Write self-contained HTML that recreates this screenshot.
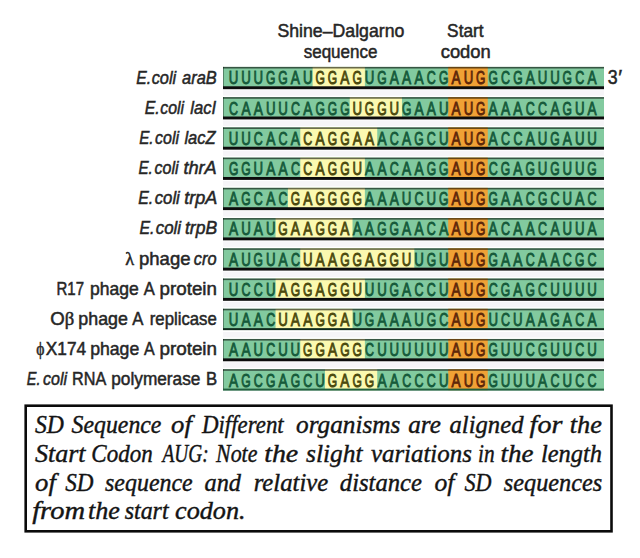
<!DOCTYPE html>
<html><head><meta charset="utf-8"><title>SD sequences</title>
<style>html,body{margin:0;padding:0;background:#fff}svg{display:block}svg{font-family:"Liberation Sans",sans-serif}</style></head><body>
<svg width="640" height="558" viewBox="0 0 640 558">
<rect width="640" height="558" fill="#fff"/>
<text x="0" y="0" font-family="Liberation Sans" font-size="18" fill="#262626" stroke="#262626" stroke-width="0.5" transform="translate(277.41 37.10) scale(0.9836 1)">Shine–Dalgarno</text>
<text x="0" y="0" font-family="Liberation Sans" font-size="18" fill="#262626" stroke="#262626" stroke-width="0.5" transform="translate(303.66 57.70) scale(0.9463 1)">sequence</text>
<text x="0" y="0" font-family="Liberation Sans" font-size="18" fill="#262626" stroke="#262626" stroke-width="0.5" transform="translate(447.12 37.10) scale(0.9589 1)">Start</text>
<text x="0" y="0" font-family="Liberation Sans" font-size="18" fill="#262626" stroke="#262626" stroke-width="0.5" transform="translate(440.69 57.70) scale(1.0220 1)">codon</text>
<text x="0" y="0" font-family="Liberation Sans" font-size="21" fill="#262626" stroke="#262626" stroke-width="0.5" transform="translate(607.68 83.60) scale(0.8476 1)">3</text>
<text x="0" y="0" font-family="Liberation Sans" font-size="21" fill="#262626" stroke="#262626" stroke-width="0.5" transform="translate(618.31 83.60) scale(0.9846 1)">′</text>
<g>
<text x="0" y="0" font-family="Liberation Sans" font-size="18" fill="#262626" stroke="#262626" stroke-width="0.5" transform="translate(136.18 83.90) scale(0.8746 1)"><tspan font-style="italic">E.</tspan></text>
<text x="0" y="0" font-family="Liberation Sans" font-size="18" fill="#262626" stroke="#262626" stroke-width="0.5" transform="translate(151.67 83.90) scale(0.9091 1)"><tspan font-style="italic">coli</tspan></text>
<text x="0" y="0" font-family="Liberation Sans" font-size="18" fill="#262626" stroke="#262626" stroke-width="0.5" transform="translate(182.07 83.90) scale(0.9147 1)"><tspan font-style="italic">araB</tspan></text>
<rect x="223.0" y="90.20" width="381.0" height="5.5" fill="#f6f5f8"/>
<rect x="223.0" y="66.90" width="381.0" height="21.00" fill="#82ca9f"/>
<rect x="312.64" y="66.90" width="52.24" height="21.00" fill="#fbf9b0"/>
<rect x="448.20" y="66.90" width="39.58" height="21.00" fill="#f0a135"/>
<rect x="223.0" y="66.90" width="381.0" height="1.6" fill="#000" fill-opacity="0.58"/>
<rect x="223.0" y="66.90" width="1" height="20" fill="#000" fill-opacity="0.35"/>
<rect x="223.0" y="86.30" width="381.0" height="2.9" fill="#0c0c0c"/>
<g font-size="19.2" text-anchor="middle" stroke-width="0.8">
<text transform="translate(233.60 84.30) scale(0.69 1)" fill="#155a3a" stroke="#155a3a" vector-effect="non-scaling-stroke">U</text>
<text transform="translate(245.96 84.30) scale(0.69 1)" fill="#155a3a" stroke="#155a3a" vector-effect="non-scaling-stroke">U</text>
<text transform="translate(258.32 84.30) scale(0.69 1)" fill="#155a3a" stroke="#155a3a" vector-effect="non-scaling-stroke">U</text>
<text transform="translate(270.68 84.30) scale(0.63 1)" fill="#155a3a" stroke="#155a3a" vector-effect="non-scaling-stroke">G</text>
<text transform="translate(283.04 84.30) scale(0.63 1)" fill="#155a3a" stroke="#155a3a" vector-effect="non-scaling-stroke">G</text>
<text transform="translate(295.40 84.30) scale(0.71 1)" fill="#155a3a" stroke="#155a3a" vector-effect="non-scaling-stroke">A</text>
<text transform="translate(307.76 84.30) scale(0.69 1)" fill="#155a3a" stroke="#155a3a" vector-effect="non-scaling-stroke">U</text>
<text transform="translate(320.12 84.30) scale(0.63 1)" fill="#4b490d" stroke="#4b490d" vector-effect="non-scaling-stroke">G</text>
<text transform="translate(332.48 84.30) scale(0.63 1)" fill="#4b490d" stroke="#4b490d" vector-effect="non-scaling-stroke">G</text>
<text transform="translate(344.84 84.30) scale(0.71 1)" fill="#4b490d" stroke="#4b490d" vector-effect="non-scaling-stroke">A</text>
<text transform="translate(357.20 84.30) scale(0.63 1)" fill="#4b490d" stroke="#4b490d" vector-effect="non-scaling-stroke">G</text>
<text transform="translate(369.56 84.30) scale(0.69 1)" fill="#155a3a" stroke="#155a3a" vector-effect="non-scaling-stroke">U</text>
<text transform="translate(381.92 84.30) scale(0.63 1)" fill="#155a3a" stroke="#155a3a" vector-effect="non-scaling-stroke">G</text>
<text transform="translate(394.28 84.30) scale(0.71 1)" fill="#155a3a" stroke="#155a3a" vector-effect="non-scaling-stroke">A</text>
<text transform="translate(406.64 84.30) scale(0.71 1)" fill="#155a3a" stroke="#155a3a" vector-effect="non-scaling-stroke">A</text>
<text transform="translate(419.00 84.30) scale(0.71 1)" fill="#155a3a" stroke="#155a3a" vector-effect="non-scaling-stroke">A</text>
<text transform="translate(431.36 84.30) scale(0.65 1)" fill="#155a3a" stroke="#155a3a" vector-effect="non-scaling-stroke">C</text>
<text transform="translate(443.72 84.30) scale(0.63 1)" fill="#155a3a" stroke="#155a3a" vector-effect="non-scaling-stroke">G</text>
<text transform="translate(456.08 84.30) scale(0.71 1)" fill="#5e2709" stroke="#5e2709" vector-effect="non-scaling-stroke">A</text>
<text transform="translate(468.44 84.30) scale(0.69 1)" fill="#5e2709" stroke="#5e2709" vector-effect="non-scaling-stroke">U</text>
<text transform="translate(480.80 84.30) scale(0.63 1)" fill="#5e2709" stroke="#5e2709" vector-effect="non-scaling-stroke">G</text>
<text transform="translate(493.16 84.30) scale(0.63 1)" fill="#155a3a" stroke="#155a3a" vector-effect="non-scaling-stroke">G</text>
<text transform="translate(505.52 84.30) scale(0.65 1)" fill="#155a3a" stroke="#155a3a" vector-effect="non-scaling-stroke">C</text>
<text transform="translate(517.88 84.30) scale(0.63 1)" fill="#155a3a" stroke="#155a3a" vector-effect="non-scaling-stroke">G</text>
<text transform="translate(530.24 84.30) scale(0.71 1)" fill="#155a3a" stroke="#155a3a" vector-effect="non-scaling-stroke">A</text>
<text transform="translate(542.60 84.30) scale(0.69 1)" fill="#155a3a" stroke="#155a3a" vector-effect="non-scaling-stroke">U</text>
<text transform="translate(554.96 84.30) scale(0.69 1)" fill="#155a3a" stroke="#155a3a" vector-effect="non-scaling-stroke">U</text>
<text transform="translate(567.32 84.30) scale(0.63 1)" fill="#155a3a" stroke="#155a3a" vector-effect="non-scaling-stroke">G</text>
<text transform="translate(579.68 84.30) scale(0.65 1)" fill="#155a3a" stroke="#155a3a" vector-effect="non-scaling-stroke">C</text>
<text transform="translate(592.04 84.30) scale(0.71 1)" fill="#155a3a" stroke="#155a3a" vector-effect="non-scaling-stroke">A</text>
</g></g>
<g>
<text x="0" y="0" font-family="Liberation Sans" font-size="18" fill="#262626" stroke="#262626" stroke-width="0.5" transform="translate(144.68 114.00) scale(0.8814 1)"><tspan font-style="italic">E.</tspan></text>
<text x="0" y="0" font-family="Liberation Sans" font-size="18" fill="#262626" stroke="#262626" stroke-width="0.5" transform="translate(160.28 114.00) scale(0.8800 1)"><tspan font-style="italic">coli</tspan></text>
<text x="0" y="0" font-family="Liberation Sans" font-size="18" fill="#262626" stroke="#262626" stroke-width="0.5" transform="translate(190.20 114.00) scale(0.9250 1)"><tspan font-style="italic">lacI</tspan></text>
<rect x="223.0" y="120.43" width="381.0" height="5.5" fill="#f6f5f8"/>
<rect x="223.0" y="97.13" width="381.0" height="21.00" fill="#82ca9f"/>
<rect x="349.72" y="97.13" width="52.24" height="21.00" fill="#fbf9b0"/>
<rect x="448.20" y="97.13" width="39.58" height="21.00" fill="#f0a135"/>
<rect x="223.0" y="97.13" width="381.0" height="1.6" fill="#000" fill-opacity="0.58"/>
<rect x="223.0" y="97.13" width="1" height="20" fill="#000" fill-opacity="0.35"/>
<rect x="223.0" y="116.53" width="381.0" height="2.9" fill="#0c0c0c"/>
<g font-size="19.2" text-anchor="middle" stroke-width="0.8">
<text transform="translate(233.60 114.53) scale(0.65 1)" fill="#155a3a" stroke="#155a3a" vector-effect="non-scaling-stroke">C</text>
<text transform="translate(245.96 114.53) scale(0.71 1)" fill="#155a3a" stroke="#155a3a" vector-effect="non-scaling-stroke">A</text>
<text transform="translate(258.32 114.53) scale(0.71 1)" fill="#155a3a" stroke="#155a3a" vector-effect="non-scaling-stroke">A</text>
<text transform="translate(270.68 114.53) scale(0.69 1)" fill="#155a3a" stroke="#155a3a" vector-effect="non-scaling-stroke">U</text>
<text transform="translate(283.04 114.53) scale(0.69 1)" fill="#155a3a" stroke="#155a3a" vector-effect="non-scaling-stroke">U</text>
<text transform="translate(295.40 114.53) scale(0.65 1)" fill="#155a3a" stroke="#155a3a" vector-effect="non-scaling-stroke">C</text>
<text transform="translate(307.76 114.53) scale(0.71 1)" fill="#155a3a" stroke="#155a3a" vector-effect="non-scaling-stroke">A</text>
<text transform="translate(320.12 114.53) scale(0.63 1)" fill="#155a3a" stroke="#155a3a" vector-effect="non-scaling-stroke">G</text>
<text transform="translate(332.48 114.53) scale(0.63 1)" fill="#155a3a" stroke="#155a3a" vector-effect="non-scaling-stroke">G</text>
<text transform="translate(344.84 114.53) scale(0.63 1)" fill="#155a3a" stroke="#155a3a" vector-effect="non-scaling-stroke">G</text>
<text transform="translate(357.20 114.53) scale(0.69 1)" fill="#4b490d" stroke="#4b490d" vector-effect="non-scaling-stroke">U</text>
<text transform="translate(369.56 114.53) scale(0.63 1)" fill="#4b490d" stroke="#4b490d" vector-effect="non-scaling-stroke">G</text>
<text transform="translate(381.92 114.53) scale(0.63 1)" fill="#4b490d" stroke="#4b490d" vector-effect="non-scaling-stroke">G</text>
<text transform="translate(394.28 114.53) scale(0.69 1)" fill="#4b490d" stroke="#4b490d" vector-effect="non-scaling-stroke">U</text>
<text transform="translate(406.64 114.53) scale(0.63 1)" fill="#155a3a" stroke="#155a3a" vector-effect="non-scaling-stroke">G</text>
<text transform="translate(419.00 114.53) scale(0.71 1)" fill="#155a3a" stroke="#155a3a" vector-effect="non-scaling-stroke">A</text>
<text transform="translate(431.36 114.53) scale(0.71 1)" fill="#155a3a" stroke="#155a3a" vector-effect="non-scaling-stroke">A</text>
<text transform="translate(443.72 114.53) scale(0.69 1)" fill="#155a3a" stroke="#155a3a" vector-effect="non-scaling-stroke">U</text>
<text transform="translate(456.08 114.53) scale(0.71 1)" fill="#5e2709" stroke="#5e2709" vector-effect="non-scaling-stroke">A</text>
<text transform="translate(468.44 114.53) scale(0.69 1)" fill="#5e2709" stroke="#5e2709" vector-effect="non-scaling-stroke">U</text>
<text transform="translate(480.80 114.53) scale(0.63 1)" fill="#5e2709" stroke="#5e2709" vector-effect="non-scaling-stroke">G</text>
<text transform="translate(493.16 114.53) scale(0.71 1)" fill="#155a3a" stroke="#155a3a" vector-effect="non-scaling-stroke">A</text>
<text transform="translate(505.52 114.53) scale(0.71 1)" fill="#155a3a" stroke="#155a3a" vector-effect="non-scaling-stroke">A</text>
<text transform="translate(517.88 114.53) scale(0.71 1)" fill="#155a3a" stroke="#155a3a" vector-effect="non-scaling-stroke">A</text>
<text transform="translate(530.24 114.53) scale(0.65 1)" fill="#155a3a" stroke="#155a3a" vector-effect="non-scaling-stroke">C</text>
<text transform="translate(542.60 114.53) scale(0.65 1)" fill="#155a3a" stroke="#155a3a" vector-effect="non-scaling-stroke">C</text>
<text transform="translate(554.96 114.53) scale(0.71 1)" fill="#155a3a" stroke="#155a3a" vector-effect="non-scaling-stroke">A</text>
<text transform="translate(567.32 114.53) scale(0.63 1)" fill="#155a3a" stroke="#155a3a" vector-effect="non-scaling-stroke">G</text>
<text transform="translate(579.68 114.53) scale(0.69 1)" fill="#155a3a" stroke="#155a3a" vector-effect="non-scaling-stroke">U</text>
<text transform="translate(592.04 114.53) scale(0.71 1)" fill="#155a3a" stroke="#155a3a" vector-effect="non-scaling-stroke">A</text>
</g></g>
<g>
<text x="0" y="0" font-family="Liberation Sans" font-size="18" fill="#262626" stroke="#262626" stroke-width="0.5" transform="translate(139.19 144.10) scale(0.8475 1)"><tspan font-style="italic">E.</tspan></text>
<text x="0" y="0" font-family="Liberation Sans" font-size="18" fill="#262626" stroke="#262626" stroke-width="0.5" transform="translate(155.08 144.10) scale(0.8873 1)"><tspan font-style="italic">coli</tspan></text>
<text x="0" y="0" font-family="Liberation Sans" font-size="18" fill="#262626" stroke="#262626" stroke-width="0.5" transform="translate(184.40 144.10) scale(0.9180 1)"><tspan font-style="italic">lacZ</tspan></text>
<rect x="223.0" y="150.66" width="381.0" height="5.5" fill="#f6f5f8"/>
<rect x="223.0" y="127.36" width="381.0" height="21.00" fill="#82ca9f"/>
<rect x="300.28" y="127.36" width="76.96" height="21.00" fill="#fbf9b0"/>
<rect x="448.20" y="127.36" width="39.58" height="21.00" fill="#f0a135"/>
<rect x="223.0" y="127.36" width="381.0" height="1.6" fill="#000" fill-opacity="0.58"/>
<rect x="223.0" y="127.36" width="1" height="20" fill="#000" fill-opacity="0.35"/>
<rect x="223.0" y="146.76" width="381.0" height="2.9" fill="#0c0c0c"/>
<g font-size="19.2" text-anchor="middle" stroke-width="0.8">
<text transform="translate(233.60 144.76) scale(0.69 1)" fill="#155a3a" stroke="#155a3a" vector-effect="non-scaling-stroke">U</text>
<text transform="translate(245.96 144.76) scale(0.69 1)" fill="#155a3a" stroke="#155a3a" vector-effect="non-scaling-stroke">U</text>
<text transform="translate(258.32 144.76) scale(0.65 1)" fill="#155a3a" stroke="#155a3a" vector-effect="non-scaling-stroke">C</text>
<text transform="translate(270.68 144.76) scale(0.71 1)" fill="#155a3a" stroke="#155a3a" vector-effect="non-scaling-stroke">A</text>
<text transform="translate(283.04 144.76) scale(0.65 1)" fill="#155a3a" stroke="#155a3a" vector-effect="non-scaling-stroke">C</text>
<text transform="translate(295.40 144.76) scale(0.71 1)" fill="#155a3a" stroke="#155a3a" vector-effect="non-scaling-stroke">A</text>
<text transform="translate(307.76 144.76) scale(0.65 1)" fill="#4b490d" stroke="#4b490d" vector-effect="non-scaling-stroke">C</text>
<text transform="translate(320.12 144.76) scale(0.71 1)" fill="#4b490d" stroke="#4b490d" vector-effect="non-scaling-stroke">A</text>
<text transform="translate(332.48 144.76) scale(0.63 1)" fill="#4b490d" stroke="#4b490d" vector-effect="non-scaling-stroke">G</text>
<text transform="translate(344.84 144.76) scale(0.63 1)" fill="#4b490d" stroke="#4b490d" vector-effect="non-scaling-stroke">G</text>
<text transform="translate(357.20 144.76) scale(0.71 1)" fill="#4b490d" stroke="#4b490d" vector-effect="non-scaling-stroke">A</text>
<text transform="translate(369.56 144.76) scale(0.71 1)" fill="#4b490d" stroke="#4b490d" vector-effect="non-scaling-stroke">A</text>
<text transform="translate(381.92 144.76) scale(0.71 1)" fill="#155a3a" stroke="#155a3a" vector-effect="non-scaling-stroke">A</text>
<text transform="translate(394.28 144.76) scale(0.65 1)" fill="#155a3a" stroke="#155a3a" vector-effect="non-scaling-stroke">C</text>
<text transform="translate(406.64 144.76) scale(0.71 1)" fill="#155a3a" stroke="#155a3a" vector-effect="non-scaling-stroke">A</text>
<text transform="translate(419.00 144.76) scale(0.63 1)" fill="#155a3a" stroke="#155a3a" vector-effect="non-scaling-stroke">G</text>
<text transform="translate(431.36 144.76) scale(0.65 1)" fill="#155a3a" stroke="#155a3a" vector-effect="non-scaling-stroke">C</text>
<text transform="translate(443.72 144.76) scale(0.69 1)" fill="#155a3a" stroke="#155a3a" vector-effect="non-scaling-stroke">U</text>
<text transform="translate(456.08 144.76) scale(0.71 1)" fill="#5e2709" stroke="#5e2709" vector-effect="non-scaling-stroke">A</text>
<text transform="translate(468.44 144.76) scale(0.69 1)" fill="#5e2709" stroke="#5e2709" vector-effect="non-scaling-stroke">U</text>
<text transform="translate(480.80 144.76) scale(0.63 1)" fill="#5e2709" stroke="#5e2709" vector-effect="non-scaling-stroke">G</text>
<text transform="translate(493.16 144.76) scale(0.71 1)" fill="#155a3a" stroke="#155a3a" vector-effect="non-scaling-stroke">A</text>
<text transform="translate(505.52 144.76) scale(0.65 1)" fill="#155a3a" stroke="#155a3a" vector-effect="non-scaling-stroke">C</text>
<text transform="translate(517.88 144.76) scale(0.65 1)" fill="#155a3a" stroke="#155a3a" vector-effect="non-scaling-stroke">C</text>
<text transform="translate(530.24 144.76) scale(0.71 1)" fill="#155a3a" stroke="#155a3a" vector-effect="non-scaling-stroke">A</text>
<text transform="translate(542.60 144.76) scale(0.69 1)" fill="#155a3a" stroke="#155a3a" vector-effect="non-scaling-stroke">U</text>
<text transform="translate(554.96 144.76) scale(0.63 1)" fill="#155a3a" stroke="#155a3a" vector-effect="non-scaling-stroke">G</text>
<text transform="translate(567.32 144.76) scale(0.71 1)" fill="#155a3a" stroke="#155a3a" vector-effect="non-scaling-stroke">A</text>
<text transform="translate(579.68 144.76) scale(0.69 1)" fill="#155a3a" stroke="#155a3a" vector-effect="non-scaling-stroke">U</text>
<text transform="translate(592.04 144.76) scale(0.69 1)" fill="#155a3a" stroke="#155a3a" vector-effect="non-scaling-stroke">U</text>
</g></g>
<g>
<text x="0" y="0" font-family="Liberation Sans" font-size="18" fill="#262626" stroke="#262626" stroke-width="0.5" transform="translate(138.39 174.20) scale(0.8475 1)"><tspan font-style="italic">E.</tspan></text>
<text x="0" y="0" font-family="Liberation Sans" font-size="18" fill="#262626" stroke="#262626" stroke-width="0.5" transform="translate(154.48 174.20) scale(0.8909 1)"><tspan font-style="italic">coli</tspan></text>
<text x="0" y="0" font-family="Liberation Sans" font-size="18" fill="#262626" stroke="#262626" stroke-width="0.5" transform="translate(183.39 174.20) scale(1.0110 1)"><tspan font-style="italic">thrA</tspan></text>
<rect x="223.0" y="180.89" width="381.0" height="5.5" fill="#f6f5f8"/>
<rect x="223.0" y="157.59" width="381.0" height="21.00" fill="#82ca9f"/>
<rect x="300.28" y="157.59" width="64.60" height="21.00" fill="#fbf9b0"/>
<rect x="448.20" y="157.59" width="39.58" height="21.00" fill="#f0a135"/>
<rect x="223.0" y="157.59" width="381.0" height="1.6" fill="#000" fill-opacity="0.58"/>
<rect x="223.0" y="157.59" width="1" height="20" fill="#000" fill-opacity="0.35"/>
<rect x="223.0" y="176.99" width="381.0" height="2.9" fill="#0c0c0c"/>
<g font-size="19.2" text-anchor="middle" stroke-width="0.8">
<text transform="translate(233.60 174.99) scale(0.63 1)" fill="#155a3a" stroke="#155a3a" vector-effect="non-scaling-stroke">G</text>
<text transform="translate(245.96 174.99) scale(0.63 1)" fill="#155a3a" stroke="#155a3a" vector-effect="non-scaling-stroke">G</text>
<text transform="translate(258.32 174.99) scale(0.69 1)" fill="#155a3a" stroke="#155a3a" vector-effect="non-scaling-stroke">U</text>
<text transform="translate(270.68 174.99) scale(0.71 1)" fill="#155a3a" stroke="#155a3a" vector-effect="non-scaling-stroke">A</text>
<text transform="translate(283.04 174.99) scale(0.71 1)" fill="#155a3a" stroke="#155a3a" vector-effect="non-scaling-stroke">A</text>
<text transform="translate(295.40 174.99) scale(0.65 1)" fill="#155a3a" stroke="#155a3a" vector-effect="non-scaling-stroke">C</text>
<text transform="translate(307.76 174.99) scale(0.65 1)" fill="#4b490d" stroke="#4b490d" vector-effect="non-scaling-stroke">C</text>
<text transform="translate(320.12 174.99) scale(0.71 1)" fill="#4b490d" stroke="#4b490d" vector-effect="non-scaling-stroke">A</text>
<text transform="translate(332.48 174.99) scale(0.63 1)" fill="#4b490d" stroke="#4b490d" vector-effect="non-scaling-stroke">G</text>
<text transform="translate(344.84 174.99) scale(0.63 1)" fill="#4b490d" stroke="#4b490d" vector-effect="non-scaling-stroke">G</text>
<text transform="translate(357.20 174.99) scale(0.69 1)" fill="#4b490d" stroke="#4b490d" vector-effect="non-scaling-stroke">U</text>
<text transform="translate(369.56 174.99) scale(0.71 1)" fill="#155a3a" stroke="#155a3a" vector-effect="non-scaling-stroke">A</text>
<text transform="translate(381.92 174.99) scale(0.71 1)" fill="#155a3a" stroke="#155a3a" vector-effect="non-scaling-stroke">A</text>
<text transform="translate(394.28 174.99) scale(0.65 1)" fill="#155a3a" stroke="#155a3a" vector-effect="non-scaling-stroke">C</text>
<text transform="translate(406.64 174.99) scale(0.71 1)" fill="#155a3a" stroke="#155a3a" vector-effect="non-scaling-stroke">A</text>
<text transform="translate(419.00 174.99) scale(0.71 1)" fill="#155a3a" stroke="#155a3a" vector-effect="non-scaling-stroke">A</text>
<text transform="translate(431.36 174.99) scale(0.63 1)" fill="#155a3a" stroke="#155a3a" vector-effect="non-scaling-stroke">G</text>
<text transform="translate(443.72 174.99) scale(0.63 1)" fill="#155a3a" stroke="#155a3a" vector-effect="non-scaling-stroke">G</text>
<text transform="translate(456.08 174.99) scale(0.71 1)" fill="#5e2709" stroke="#5e2709" vector-effect="non-scaling-stroke">A</text>
<text transform="translate(468.44 174.99) scale(0.69 1)" fill="#5e2709" stroke="#5e2709" vector-effect="non-scaling-stroke">U</text>
<text transform="translate(480.80 174.99) scale(0.63 1)" fill="#5e2709" stroke="#5e2709" vector-effect="non-scaling-stroke">G</text>
<text transform="translate(493.16 174.99) scale(0.65 1)" fill="#155a3a" stroke="#155a3a" vector-effect="non-scaling-stroke">C</text>
<text transform="translate(505.52 174.99) scale(0.63 1)" fill="#155a3a" stroke="#155a3a" vector-effect="non-scaling-stroke">G</text>
<text transform="translate(517.88 174.99) scale(0.71 1)" fill="#155a3a" stroke="#155a3a" vector-effect="non-scaling-stroke">A</text>
<text transform="translate(530.24 174.99) scale(0.63 1)" fill="#155a3a" stroke="#155a3a" vector-effect="non-scaling-stroke">G</text>
<text transform="translate(542.60 174.99) scale(0.69 1)" fill="#155a3a" stroke="#155a3a" vector-effect="non-scaling-stroke">U</text>
<text transform="translate(554.96 174.99) scale(0.63 1)" fill="#155a3a" stroke="#155a3a" vector-effect="non-scaling-stroke">G</text>
<text transform="translate(567.32 174.99) scale(0.69 1)" fill="#155a3a" stroke="#155a3a" vector-effect="non-scaling-stroke">U</text>
<text transform="translate(579.68 174.99) scale(0.69 1)" fill="#155a3a" stroke="#155a3a" vector-effect="non-scaling-stroke">U</text>
<text transform="translate(592.04 174.99) scale(0.63 1)" fill="#155a3a" stroke="#155a3a" vector-effect="non-scaling-stroke">G</text>
</g></g>
<g>
<text x="0" y="0" font-family="Liberation Sans" font-size="18" fill="#262626" stroke="#262626" stroke-width="0.5" transform="translate(138.28 204.30) scale(0.8814 1)"><tspan font-style="italic">E.</tspan></text>
<text x="0" y="0" font-family="Liberation Sans" font-size="18" fill="#262626" stroke="#262626" stroke-width="0.5" transform="translate(154.77 204.30) scale(0.9273 1)"><tspan font-style="italic">coli</tspan></text>
<text x="0" y="0" font-family="Liberation Sans" font-size="18" fill="#262626" stroke="#262626" stroke-width="0.5" transform="translate(184.20 204.30) scale(1.0047 1)"><tspan font-style="italic">trpA</tspan></text>
<rect x="223.0" y="211.12" width="381.0" height="5.5" fill="#f6f5f8"/>
<rect x="223.0" y="187.82" width="381.0" height="21.00" fill="#82ca9f"/>
<rect x="287.92" y="187.82" width="76.96" height="21.00" fill="#fbf9b0"/>
<rect x="448.20" y="187.82" width="39.58" height="21.00" fill="#f0a135"/>
<rect x="223.0" y="187.82" width="381.0" height="1.6" fill="#000" fill-opacity="0.58"/>
<rect x="223.0" y="187.82" width="1" height="20" fill="#000" fill-opacity="0.35"/>
<rect x="223.0" y="207.22" width="381.0" height="2.9" fill="#0c0c0c"/>
<g font-size="19.2" text-anchor="middle" stroke-width="0.8">
<text transform="translate(233.60 205.22) scale(0.71 1)" fill="#155a3a" stroke="#155a3a" vector-effect="non-scaling-stroke">A</text>
<text transform="translate(245.96 205.22) scale(0.63 1)" fill="#155a3a" stroke="#155a3a" vector-effect="non-scaling-stroke">G</text>
<text transform="translate(258.32 205.22) scale(0.65 1)" fill="#155a3a" stroke="#155a3a" vector-effect="non-scaling-stroke">C</text>
<text transform="translate(270.68 205.22) scale(0.71 1)" fill="#155a3a" stroke="#155a3a" vector-effect="non-scaling-stroke">A</text>
<text transform="translate(283.04 205.22) scale(0.65 1)" fill="#155a3a" stroke="#155a3a" vector-effect="non-scaling-stroke">C</text>
<text transform="translate(295.40 205.22) scale(0.63 1)" fill="#4b490d" stroke="#4b490d" vector-effect="non-scaling-stroke">G</text>
<text transform="translate(307.76 205.22) scale(0.71 1)" fill="#4b490d" stroke="#4b490d" vector-effect="non-scaling-stroke">A</text>
<text transform="translate(320.12 205.22) scale(0.63 1)" fill="#4b490d" stroke="#4b490d" vector-effect="non-scaling-stroke">G</text>
<text transform="translate(332.48 205.22) scale(0.63 1)" fill="#4b490d" stroke="#4b490d" vector-effect="non-scaling-stroke">G</text>
<text transform="translate(344.84 205.22) scale(0.63 1)" fill="#4b490d" stroke="#4b490d" vector-effect="non-scaling-stroke">G</text>
<text transform="translate(357.20 205.22) scale(0.63 1)" fill="#4b490d" stroke="#4b490d" vector-effect="non-scaling-stroke">G</text>
<text transform="translate(369.56 205.22) scale(0.71 1)" fill="#155a3a" stroke="#155a3a" vector-effect="non-scaling-stroke">A</text>
<text transform="translate(381.92 205.22) scale(0.71 1)" fill="#155a3a" stroke="#155a3a" vector-effect="non-scaling-stroke">A</text>
<text transform="translate(394.28 205.22) scale(0.71 1)" fill="#155a3a" stroke="#155a3a" vector-effect="non-scaling-stroke">A</text>
<text transform="translate(406.64 205.22) scale(0.69 1)" fill="#155a3a" stroke="#155a3a" vector-effect="non-scaling-stroke">U</text>
<text transform="translate(419.00 205.22) scale(0.65 1)" fill="#155a3a" stroke="#155a3a" vector-effect="non-scaling-stroke">C</text>
<text transform="translate(431.36 205.22) scale(0.69 1)" fill="#155a3a" stroke="#155a3a" vector-effect="non-scaling-stroke">U</text>
<text transform="translate(443.72 205.22) scale(0.63 1)" fill="#155a3a" stroke="#155a3a" vector-effect="non-scaling-stroke">G</text>
<text transform="translate(456.08 205.22) scale(0.71 1)" fill="#5e2709" stroke="#5e2709" vector-effect="non-scaling-stroke">A</text>
<text transform="translate(468.44 205.22) scale(0.69 1)" fill="#5e2709" stroke="#5e2709" vector-effect="non-scaling-stroke">U</text>
<text transform="translate(480.80 205.22) scale(0.63 1)" fill="#5e2709" stroke="#5e2709" vector-effect="non-scaling-stroke">G</text>
<text transform="translate(493.16 205.22) scale(0.63 1)" fill="#155a3a" stroke="#155a3a" vector-effect="non-scaling-stroke">G</text>
<text transform="translate(505.52 205.22) scale(0.71 1)" fill="#155a3a" stroke="#155a3a" vector-effect="non-scaling-stroke">A</text>
<text transform="translate(517.88 205.22) scale(0.71 1)" fill="#155a3a" stroke="#155a3a" vector-effect="non-scaling-stroke">A</text>
<text transform="translate(530.24 205.22) scale(0.65 1)" fill="#155a3a" stroke="#155a3a" vector-effect="non-scaling-stroke">C</text>
<text transform="translate(542.60 205.22) scale(0.63 1)" fill="#155a3a" stroke="#155a3a" vector-effect="non-scaling-stroke">G</text>
<text transform="translate(554.96 205.22) scale(0.65 1)" fill="#155a3a" stroke="#155a3a" vector-effect="non-scaling-stroke">C</text>
<text transform="translate(567.32 205.22) scale(0.69 1)" fill="#155a3a" stroke="#155a3a" vector-effect="non-scaling-stroke">U</text>
<text transform="translate(579.68 205.22) scale(0.71 1)" fill="#155a3a" stroke="#155a3a" vector-effect="non-scaling-stroke">A</text>
<text transform="translate(592.04 205.22) scale(0.65 1)" fill="#155a3a" stroke="#155a3a" vector-effect="non-scaling-stroke">C</text>
</g></g>
<g>
<text x="0" y="0" font-family="Liberation Sans" font-size="18" fill="#262626" stroke="#262626" stroke-width="0.5" transform="translate(139.38 234.40) scale(0.8814 1)"><tspan font-style="italic">E.</tspan></text>
<text x="0" y="0" font-family="Liberation Sans" font-size="18" fill="#262626" stroke="#262626" stroke-width="0.5" transform="translate(155.77 234.40) scale(0.9382 1)"><tspan font-style="italic">coli</tspan></text>
<text x="0" y="0" font-family="Liberation Sans" font-size="18" fill="#262626" stroke="#262626" stroke-width="0.5" transform="translate(184.91 234.40) scale(0.9767 1)"><tspan font-style="italic">trpB</tspan></text>
<rect x="223.0" y="241.35" width="381.0" height="5.5" fill="#f6f5f8"/>
<rect x="223.0" y="218.05" width="381.0" height="21.00" fill="#82ca9f"/>
<rect x="275.56" y="218.05" width="76.96" height="21.00" fill="#fbf9b0"/>
<rect x="448.20" y="218.05" width="39.58" height="21.00" fill="#f0a135"/>
<rect x="223.0" y="218.05" width="381.0" height="1.6" fill="#000" fill-opacity="0.58"/>
<rect x="223.0" y="218.05" width="1" height="20" fill="#000" fill-opacity="0.35"/>
<rect x="223.0" y="237.45" width="381.0" height="2.9" fill="#0c0c0c"/>
<g font-size="19.2" text-anchor="middle" stroke-width="0.8">
<text transform="translate(233.60 235.45) scale(0.71 1)" fill="#155a3a" stroke="#155a3a" vector-effect="non-scaling-stroke">A</text>
<text transform="translate(245.96 235.45) scale(0.69 1)" fill="#155a3a" stroke="#155a3a" vector-effect="non-scaling-stroke">U</text>
<text transform="translate(258.32 235.45) scale(0.71 1)" fill="#155a3a" stroke="#155a3a" vector-effect="non-scaling-stroke">A</text>
<text transform="translate(270.68 235.45) scale(0.69 1)" fill="#155a3a" stroke="#155a3a" vector-effect="non-scaling-stroke">U</text>
<text transform="translate(283.04 235.45) scale(0.63 1)" fill="#4b490d" stroke="#4b490d" vector-effect="non-scaling-stroke">G</text>
<text transform="translate(295.40 235.45) scale(0.71 1)" fill="#4b490d" stroke="#4b490d" vector-effect="non-scaling-stroke">A</text>
<text transform="translate(307.76 235.45) scale(0.71 1)" fill="#4b490d" stroke="#4b490d" vector-effect="non-scaling-stroke">A</text>
<text transform="translate(320.12 235.45) scale(0.63 1)" fill="#4b490d" stroke="#4b490d" vector-effect="non-scaling-stroke">G</text>
<text transform="translate(332.48 235.45) scale(0.63 1)" fill="#4b490d" stroke="#4b490d" vector-effect="non-scaling-stroke">G</text>
<text transform="translate(344.84 235.45) scale(0.71 1)" fill="#4b490d" stroke="#4b490d" vector-effect="non-scaling-stroke">A</text>
<text transform="translate(357.20 235.45) scale(0.71 1)" fill="#155a3a" stroke="#155a3a" vector-effect="non-scaling-stroke">A</text>
<text transform="translate(369.56 235.45) scale(0.71 1)" fill="#155a3a" stroke="#155a3a" vector-effect="non-scaling-stroke">A</text>
<text transform="translate(381.92 235.45) scale(0.63 1)" fill="#155a3a" stroke="#155a3a" vector-effect="non-scaling-stroke">G</text>
<text transform="translate(394.28 235.45) scale(0.63 1)" fill="#155a3a" stroke="#155a3a" vector-effect="non-scaling-stroke">G</text>
<text transform="translate(406.64 235.45) scale(0.71 1)" fill="#155a3a" stroke="#155a3a" vector-effect="non-scaling-stroke">A</text>
<text transform="translate(419.00 235.45) scale(0.71 1)" fill="#155a3a" stroke="#155a3a" vector-effect="non-scaling-stroke">A</text>
<text transform="translate(431.36 235.45) scale(0.65 1)" fill="#155a3a" stroke="#155a3a" vector-effect="non-scaling-stroke">C</text>
<text transform="translate(443.72 235.45) scale(0.71 1)" fill="#155a3a" stroke="#155a3a" vector-effect="non-scaling-stroke">A</text>
<text transform="translate(456.08 235.45) scale(0.71 1)" fill="#5e2709" stroke="#5e2709" vector-effect="non-scaling-stroke">A</text>
<text transform="translate(468.44 235.45) scale(0.69 1)" fill="#5e2709" stroke="#5e2709" vector-effect="non-scaling-stroke">U</text>
<text transform="translate(480.80 235.45) scale(0.63 1)" fill="#5e2709" stroke="#5e2709" vector-effect="non-scaling-stroke">G</text>
<text transform="translate(493.16 235.45) scale(0.71 1)" fill="#155a3a" stroke="#155a3a" vector-effect="non-scaling-stroke">A</text>
<text transform="translate(505.52 235.45) scale(0.65 1)" fill="#155a3a" stroke="#155a3a" vector-effect="non-scaling-stroke">C</text>
<text transform="translate(517.88 235.45) scale(0.71 1)" fill="#155a3a" stroke="#155a3a" vector-effect="non-scaling-stroke">A</text>
<text transform="translate(530.24 235.45) scale(0.71 1)" fill="#155a3a" stroke="#155a3a" vector-effect="non-scaling-stroke">A</text>
<text transform="translate(542.60 235.45) scale(0.65 1)" fill="#155a3a" stroke="#155a3a" vector-effect="non-scaling-stroke">C</text>
<text transform="translate(554.96 235.45) scale(0.71 1)" fill="#155a3a" stroke="#155a3a" vector-effect="non-scaling-stroke">A</text>
<text transform="translate(567.32 235.45) scale(0.69 1)" fill="#155a3a" stroke="#155a3a" vector-effect="non-scaling-stroke">U</text>
<text transform="translate(579.68 235.45) scale(0.69 1)" fill="#155a3a" stroke="#155a3a" vector-effect="non-scaling-stroke">U</text>
<text transform="translate(592.04 235.45) scale(0.71 1)" fill="#155a3a" stroke="#155a3a" vector-effect="non-scaling-stroke">A</text>
</g></g>
<g>
<text x="0" y="0" font-family="Liberation Sans" font-size="18" fill="#262626" stroke="#262626" stroke-width="0.5" transform="translate(125.25 264.50) scale(1.0171 1)"><tspan font-family="Liberation Serif">λ</tspan></text>
<text x="0" y="0" font-family="Liberation Sans" font-size="18" fill="#262626" stroke="#262626" stroke-width="0.5" transform="translate(139.03 264.50) scale(1.0297 1)">phage</text>
<text x="0" y="0" font-family="Liberation Sans" font-size="18" fill="#262626" stroke="#262626" stroke-width="0.5" transform="translate(193.77 264.50) scale(0.9102 1)"><tspan font-style="italic">cro</tspan></text>
<rect x="223.0" y="271.58" width="381.0" height="5.5" fill="#f6f5f8"/>
<rect x="223.0" y="248.28" width="381.0" height="21.00" fill="#82ca9f"/>
<rect x="300.28" y="248.28" width="114.04" height="21.00" fill="#fbf9b0"/>
<rect x="448.20" y="248.28" width="39.58" height="21.00" fill="#f0a135"/>
<rect x="223.0" y="248.28" width="381.0" height="1.6" fill="#000" fill-opacity="0.58"/>
<rect x="223.0" y="248.28" width="1" height="20" fill="#000" fill-opacity="0.35"/>
<rect x="223.0" y="267.68" width="381.0" height="2.9" fill="#0c0c0c"/>
<g font-size="19.2" text-anchor="middle" stroke-width="0.8">
<text transform="translate(233.60 265.68) scale(0.71 1)" fill="#155a3a" stroke="#155a3a" vector-effect="non-scaling-stroke">A</text>
<text transform="translate(245.96 265.68) scale(0.69 1)" fill="#155a3a" stroke="#155a3a" vector-effect="non-scaling-stroke">U</text>
<text transform="translate(258.32 265.68) scale(0.63 1)" fill="#155a3a" stroke="#155a3a" vector-effect="non-scaling-stroke">G</text>
<text transform="translate(270.68 265.68) scale(0.69 1)" fill="#155a3a" stroke="#155a3a" vector-effect="non-scaling-stroke">U</text>
<text transform="translate(283.04 265.68) scale(0.71 1)" fill="#155a3a" stroke="#155a3a" vector-effect="non-scaling-stroke">A</text>
<text transform="translate(295.40 265.68) scale(0.65 1)" fill="#155a3a" stroke="#155a3a" vector-effect="non-scaling-stroke">C</text>
<text transform="translate(307.76 265.68) scale(0.69 1)" fill="#4b490d" stroke="#4b490d" vector-effect="non-scaling-stroke">U</text>
<text transform="translate(320.12 265.68) scale(0.71 1)" fill="#4b490d" stroke="#4b490d" vector-effect="non-scaling-stroke">A</text>
<text transform="translate(332.48 265.68) scale(0.71 1)" fill="#4b490d" stroke="#4b490d" vector-effect="non-scaling-stroke">A</text>
<text transform="translate(344.84 265.68) scale(0.63 1)" fill="#4b490d" stroke="#4b490d" vector-effect="non-scaling-stroke">G</text>
<text transform="translate(357.20 265.68) scale(0.63 1)" fill="#4b490d" stroke="#4b490d" vector-effect="non-scaling-stroke">G</text>
<text transform="translate(369.56 265.68) scale(0.71 1)" fill="#4b490d" stroke="#4b490d" vector-effect="non-scaling-stroke">A</text>
<text transform="translate(381.92 265.68) scale(0.63 1)" fill="#4b490d" stroke="#4b490d" vector-effect="non-scaling-stroke">G</text>
<text transform="translate(394.28 265.68) scale(0.63 1)" fill="#4b490d" stroke="#4b490d" vector-effect="non-scaling-stroke">G</text>
<text transform="translate(406.64 265.68) scale(0.69 1)" fill="#4b490d" stroke="#4b490d" vector-effect="non-scaling-stroke">U</text>
<text transform="translate(419.00 265.68) scale(0.69 1)" fill="#155a3a" stroke="#155a3a" vector-effect="non-scaling-stroke">U</text>
<text transform="translate(431.36 265.68) scale(0.63 1)" fill="#155a3a" stroke="#155a3a" vector-effect="non-scaling-stroke">G</text>
<text transform="translate(443.72 265.68) scale(0.69 1)" fill="#155a3a" stroke="#155a3a" vector-effect="non-scaling-stroke">U</text>
<text transform="translate(456.08 265.68) scale(0.71 1)" fill="#5e2709" stroke="#5e2709" vector-effect="non-scaling-stroke">A</text>
<text transform="translate(468.44 265.68) scale(0.69 1)" fill="#5e2709" stroke="#5e2709" vector-effect="non-scaling-stroke">U</text>
<text transform="translate(480.80 265.68) scale(0.63 1)" fill="#5e2709" stroke="#5e2709" vector-effect="non-scaling-stroke">G</text>
<text transform="translate(493.16 265.68) scale(0.63 1)" fill="#155a3a" stroke="#155a3a" vector-effect="non-scaling-stroke">G</text>
<text transform="translate(505.52 265.68) scale(0.71 1)" fill="#155a3a" stroke="#155a3a" vector-effect="non-scaling-stroke">A</text>
<text transform="translate(517.88 265.68) scale(0.71 1)" fill="#155a3a" stroke="#155a3a" vector-effect="non-scaling-stroke">A</text>
<text transform="translate(530.24 265.68) scale(0.65 1)" fill="#155a3a" stroke="#155a3a" vector-effect="non-scaling-stroke">C</text>
<text transform="translate(542.60 265.68) scale(0.71 1)" fill="#155a3a" stroke="#155a3a" vector-effect="non-scaling-stroke">A</text>
<text transform="translate(554.96 265.68) scale(0.71 1)" fill="#155a3a" stroke="#155a3a" vector-effect="non-scaling-stroke">A</text>
<text transform="translate(567.32 265.68) scale(0.65 1)" fill="#155a3a" stroke="#155a3a" vector-effect="non-scaling-stroke">C</text>
<text transform="translate(579.68 265.68) scale(0.63 1)" fill="#155a3a" stroke="#155a3a" vector-effect="non-scaling-stroke">G</text>
<text transform="translate(592.04 265.68) scale(0.65 1)" fill="#155a3a" stroke="#155a3a" vector-effect="non-scaling-stroke">C</text>
</g></g>
<g>
<text x="0" y="0" font-family="Liberation Sans" font-size="18" fill="#262626" stroke="#262626" stroke-width="0.5" transform="translate(56.46 294.60) scale(0.8352 1)">R17</text>
<text x="0" y="0" font-family="Liberation Sans" font-size="18" fill="#262626" stroke="#262626" stroke-width="0.5" transform="translate(89.97 294.60) scale(0.9744 1)">phage</text>
<text x="0" y="0" font-family="Liberation Sans" font-size="18" fill="#262626" stroke="#262626" stroke-width="0.5" transform="translate(143.73 294.60) scale(0.9200 1)">A</text>
<text x="0" y="0" font-family="Liberation Sans" font-size="18" fill="#262626" stroke="#262626" stroke-width="0.5" transform="translate(159.62 294.60) scale(1.0423 1)">protein</text>
<rect x="223.0" y="301.81" width="381.0" height="5.5" fill="#f6f5f8"/>
<rect x="223.0" y="278.51" width="381.0" height="21.00" fill="#82ca9f"/>
<rect x="275.56" y="278.51" width="89.32" height="21.00" fill="#fbf9b0"/>
<rect x="448.20" y="278.51" width="39.58" height="21.00" fill="#f0a135"/>
<rect x="223.0" y="278.51" width="381.0" height="1.6" fill="#000" fill-opacity="0.58"/>
<rect x="223.0" y="278.51" width="1" height="20" fill="#000" fill-opacity="0.35"/>
<rect x="223.0" y="297.91" width="381.0" height="2.9" fill="#0c0c0c"/>
<g font-size="19.2" text-anchor="middle" stroke-width="0.8">
<text transform="translate(233.60 295.91) scale(0.69 1)" fill="#155a3a" stroke="#155a3a" vector-effect="non-scaling-stroke">U</text>
<text transform="translate(245.96 295.91) scale(0.65 1)" fill="#155a3a" stroke="#155a3a" vector-effect="non-scaling-stroke">C</text>
<text transform="translate(258.32 295.91) scale(0.65 1)" fill="#155a3a" stroke="#155a3a" vector-effect="non-scaling-stroke">C</text>
<text transform="translate(270.68 295.91) scale(0.69 1)" fill="#155a3a" stroke="#155a3a" vector-effect="non-scaling-stroke">U</text>
<text transform="translate(283.04 295.91) scale(0.71 1)" fill="#4b490d" stroke="#4b490d" vector-effect="non-scaling-stroke">A</text>
<text transform="translate(295.40 295.91) scale(0.63 1)" fill="#4b490d" stroke="#4b490d" vector-effect="non-scaling-stroke">G</text>
<text transform="translate(307.76 295.91) scale(0.63 1)" fill="#4b490d" stroke="#4b490d" vector-effect="non-scaling-stroke">G</text>
<text transform="translate(320.12 295.91) scale(0.71 1)" fill="#4b490d" stroke="#4b490d" vector-effect="non-scaling-stroke">A</text>
<text transform="translate(332.48 295.91) scale(0.63 1)" fill="#4b490d" stroke="#4b490d" vector-effect="non-scaling-stroke">G</text>
<text transform="translate(344.84 295.91) scale(0.63 1)" fill="#4b490d" stroke="#4b490d" vector-effect="non-scaling-stroke">G</text>
<text transform="translate(357.20 295.91) scale(0.69 1)" fill="#4b490d" stroke="#4b490d" vector-effect="non-scaling-stroke">U</text>
<text transform="translate(369.56 295.91) scale(0.69 1)" fill="#155a3a" stroke="#155a3a" vector-effect="non-scaling-stroke">U</text>
<text transform="translate(381.92 295.91) scale(0.69 1)" fill="#155a3a" stroke="#155a3a" vector-effect="non-scaling-stroke">U</text>
<text transform="translate(394.28 295.91) scale(0.63 1)" fill="#155a3a" stroke="#155a3a" vector-effect="non-scaling-stroke">G</text>
<text transform="translate(406.64 295.91) scale(0.71 1)" fill="#155a3a" stroke="#155a3a" vector-effect="non-scaling-stroke">A</text>
<text transform="translate(419.00 295.91) scale(0.65 1)" fill="#155a3a" stroke="#155a3a" vector-effect="non-scaling-stroke">C</text>
<text transform="translate(431.36 295.91) scale(0.65 1)" fill="#155a3a" stroke="#155a3a" vector-effect="non-scaling-stroke">C</text>
<text transform="translate(443.72 295.91) scale(0.69 1)" fill="#155a3a" stroke="#155a3a" vector-effect="non-scaling-stroke">U</text>
<text transform="translate(456.08 295.91) scale(0.71 1)" fill="#5e2709" stroke="#5e2709" vector-effect="non-scaling-stroke">A</text>
<text transform="translate(468.44 295.91) scale(0.69 1)" fill="#5e2709" stroke="#5e2709" vector-effect="non-scaling-stroke">U</text>
<text transform="translate(480.80 295.91) scale(0.63 1)" fill="#5e2709" stroke="#5e2709" vector-effect="non-scaling-stroke">G</text>
<text transform="translate(493.16 295.91) scale(0.65 1)" fill="#155a3a" stroke="#155a3a" vector-effect="non-scaling-stroke">C</text>
<text transform="translate(505.52 295.91) scale(0.63 1)" fill="#155a3a" stroke="#155a3a" vector-effect="non-scaling-stroke">G</text>
<text transform="translate(517.88 295.91) scale(0.71 1)" fill="#155a3a" stroke="#155a3a" vector-effect="non-scaling-stroke">A</text>
<text transform="translate(530.24 295.91) scale(0.63 1)" fill="#155a3a" stroke="#155a3a" vector-effect="non-scaling-stroke">G</text>
<text transform="translate(542.60 295.91) scale(0.65 1)" fill="#155a3a" stroke="#155a3a" vector-effect="non-scaling-stroke">C</text>
<text transform="translate(554.96 295.91) scale(0.69 1)" fill="#155a3a" stroke="#155a3a" vector-effect="non-scaling-stroke">U</text>
<text transform="translate(567.32 295.91) scale(0.69 1)" fill="#155a3a" stroke="#155a3a" vector-effect="non-scaling-stroke">U</text>
<text transform="translate(579.68 295.91) scale(0.69 1)" fill="#155a3a" stroke="#155a3a" vector-effect="non-scaling-stroke">U</text>
<text transform="translate(592.04 295.91) scale(0.69 1)" fill="#155a3a" stroke="#155a3a" vector-effect="non-scaling-stroke">U</text>
</g></g>
<g>
<text x="0" y="0" font-family="Liberation Sans" font-size="18" fill="#262626" stroke="#262626" stroke-width="0.5" transform="translate(50.28 324.70) scale(1.0337 1)">O<tspan font-family="Liberation Serif">β</tspan></text>
<text x="0" y="0" font-family="Liberation Sans" font-size="18" fill="#262626" stroke="#262626" stroke-width="0.5" transform="translate(78.36 324.70) scale(0.9908 1)">phage</text>
<text x="0" y="0" font-family="Liberation Sans" font-size="18" fill="#262626" stroke="#262626" stroke-width="0.5" transform="translate(132.13 324.70) scale(0.9280 1)">A</text>
<text x="0" y="0" font-family="Liberation Sans" font-size="18" fill="#262626" stroke="#262626" stroke-width="0.5" transform="translate(149.77 324.70) scale(0.9319 1)">replicase</text>
<rect x="223.0" y="332.04" width="381.0" height="5.5" fill="#f6f5f8"/>
<rect x="223.0" y="308.74" width="381.0" height="21.00" fill="#82ca9f"/>
<rect x="275.56" y="308.74" width="76.96" height="21.00" fill="#fbf9b0"/>
<rect x="448.20" y="308.74" width="39.58" height="21.00" fill="#f0a135"/>
<rect x="223.0" y="308.74" width="381.0" height="1.6" fill="#000" fill-opacity="0.58"/>
<rect x="223.0" y="308.74" width="1" height="20" fill="#000" fill-opacity="0.35"/>
<rect x="223.0" y="328.14" width="381.0" height="2.0" fill="#0f2a1c"/>
<g font-size="19.2" text-anchor="middle" stroke-width="0.8">
<text transform="translate(233.60 326.14) scale(0.69 1)" fill="#155a3a" stroke="#155a3a" vector-effect="non-scaling-stroke">U</text>
<text transform="translate(245.96 326.14) scale(0.71 1)" fill="#155a3a" stroke="#155a3a" vector-effect="non-scaling-stroke">A</text>
<text transform="translate(258.32 326.14) scale(0.71 1)" fill="#155a3a" stroke="#155a3a" vector-effect="non-scaling-stroke">A</text>
<text transform="translate(270.68 326.14) scale(0.65 1)" fill="#155a3a" stroke="#155a3a" vector-effect="non-scaling-stroke">C</text>
<text transform="translate(283.04 326.14) scale(0.69 1)" fill="#4b490d" stroke="#4b490d" vector-effect="non-scaling-stroke">U</text>
<text transform="translate(295.40 326.14) scale(0.71 1)" fill="#4b490d" stroke="#4b490d" vector-effect="non-scaling-stroke">A</text>
<text transform="translate(307.76 326.14) scale(0.71 1)" fill="#4b490d" stroke="#4b490d" vector-effect="non-scaling-stroke">A</text>
<text transform="translate(320.12 326.14) scale(0.63 1)" fill="#4b490d" stroke="#4b490d" vector-effect="non-scaling-stroke">G</text>
<text transform="translate(332.48 326.14) scale(0.63 1)" fill="#4b490d" stroke="#4b490d" vector-effect="non-scaling-stroke">G</text>
<text transform="translate(344.84 326.14) scale(0.71 1)" fill="#4b490d" stroke="#4b490d" vector-effect="non-scaling-stroke">A</text>
<text transform="translate(357.20 326.14) scale(0.69 1)" fill="#155a3a" stroke="#155a3a" vector-effect="non-scaling-stroke">U</text>
<text transform="translate(369.56 326.14) scale(0.63 1)" fill="#155a3a" stroke="#155a3a" vector-effect="non-scaling-stroke">G</text>
<text transform="translate(381.92 326.14) scale(0.71 1)" fill="#155a3a" stroke="#155a3a" vector-effect="non-scaling-stroke">A</text>
<text transform="translate(394.28 326.14) scale(0.71 1)" fill="#155a3a" stroke="#155a3a" vector-effect="non-scaling-stroke">A</text>
<text transform="translate(406.64 326.14) scale(0.71 1)" fill="#155a3a" stroke="#155a3a" vector-effect="non-scaling-stroke">A</text>
<text transform="translate(419.00 326.14) scale(0.69 1)" fill="#155a3a" stroke="#155a3a" vector-effect="non-scaling-stroke">U</text>
<text transform="translate(431.36 326.14) scale(0.63 1)" fill="#155a3a" stroke="#155a3a" vector-effect="non-scaling-stroke">G</text>
<text transform="translate(443.72 326.14) scale(0.65 1)" fill="#155a3a" stroke="#155a3a" vector-effect="non-scaling-stroke">C</text>
<text transform="translate(456.08 326.14) scale(0.71 1)" fill="#5e2709" stroke="#5e2709" vector-effect="non-scaling-stroke">A</text>
<text transform="translate(468.44 326.14) scale(0.69 1)" fill="#5e2709" stroke="#5e2709" vector-effect="non-scaling-stroke">U</text>
<text transform="translate(480.80 326.14) scale(0.63 1)" fill="#5e2709" stroke="#5e2709" vector-effect="non-scaling-stroke">G</text>
<text transform="translate(493.16 326.14) scale(0.69 1)" fill="#155a3a" stroke="#155a3a" vector-effect="non-scaling-stroke">U</text>
<text transform="translate(505.52 326.14) scale(0.65 1)" fill="#155a3a" stroke="#155a3a" vector-effect="non-scaling-stroke">C</text>
<text transform="translate(517.88 326.14) scale(0.69 1)" fill="#155a3a" stroke="#155a3a" vector-effect="non-scaling-stroke">U</text>
<text transform="translate(530.24 326.14) scale(0.71 1)" fill="#155a3a" stroke="#155a3a" vector-effect="non-scaling-stroke">A</text>
<text transform="translate(542.60 326.14) scale(0.71 1)" fill="#155a3a" stroke="#155a3a" vector-effect="non-scaling-stroke">A</text>
<text transform="translate(554.96 326.14) scale(0.63 1)" fill="#155a3a" stroke="#155a3a" vector-effect="non-scaling-stroke">G</text>
<text transform="translate(567.32 326.14) scale(0.71 1)" fill="#155a3a" stroke="#155a3a" vector-effect="non-scaling-stroke">A</text>
<text transform="translate(579.68 326.14) scale(0.65 1)" fill="#155a3a" stroke="#155a3a" vector-effect="non-scaling-stroke">C</text>
<text transform="translate(592.04 326.14) scale(0.71 1)" fill="#155a3a" stroke="#155a3a" vector-effect="non-scaling-stroke">A</text>
</g></g>
<g>
<text x="0" y="0" font-family="Liberation Sans" font-size="18" fill="#262626" stroke="#262626" stroke-width="0.5" transform="translate(36.18 354.80) scale(0.8667 1)"><tspan font-family="Liberation Serif">ϕ</tspan></text>
<text x="0" y="0" font-family="Liberation Sans" font-size="18" fill="#262626" stroke="#262626" stroke-width="0.5" transform="translate(45.80 354.80) scale(0.9581 1)">X174</text>
<text x="0" y="0" font-family="Liberation Sans" font-size="18" fill="#262626" stroke="#262626" stroke-width="0.5" transform="translate(90.16 354.80) scale(0.9805 1)">phage</text>
<text x="0" y="0" font-family="Liberation Sans" font-size="18" fill="#262626" stroke="#262626" stroke-width="0.5" transform="translate(144.12 354.80) scale(0.8880 1)">A</text>
<text x="0" y="0" font-family="Liberation Sans" font-size="18" fill="#262626" stroke="#262626" stroke-width="0.5" transform="translate(159.41 354.80) scale(1.0479 1)">protein</text>
<rect x="223.0" y="362.27" width="381.0" height="5.5" fill="#f6f5f8"/>
<rect x="223.0" y="338.97" width="381.0" height="21.00" fill="#82ca9f"/>
<rect x="300.28" y="338.97" width="64.60" height="21.00" fill="#fbf9b0"/>
<rect x="448.20" y="338.97" width="39.58" height="21.00" fill="#f0a135"/>
<rect x="223.0" y="338.97" width="381.0" height="1.6" fill="#000" fill-opacity="0.58"/>
<rect x="223.0" y="338.97" width="1" height="20" fill="#000" fill-opacity="0.35"/>
<rect x="223.0" y="358.37" width="381.0" height="2.9" fill="#0c0c0c"/>
<g font-size="19.2" text-anchor="middle" stroke-width="0.8">
<text transform="translate(233.60 356.37) scale(0.71 1)" fill="#155a3a" stroke="#155a3a" vector-effect="non-scaling-stroke">A</text>
<text transform="translate(245.96 356.37) scale(0.71 1)" fill="#155a3a" stroke="#155a3a" vector-effect="non-scaling-stroke">A</text>
<text transform="translate(258.32 356.37) scale(0.69 1)" fill="#155a3a" stroke="#155a3a" vector-effect="non-scaling-stroke">U</text>
<text transform="translate(270.68 356.37) scale(0.65 1)" fill="#155a3a" stroke="#155a3a" vector-effect="non-scaling-stroke">C</text>
<text transform="translate(283.04 356.37) scale(0.69 1)" fill="#155a3a" stroke="#155a3a" vector-effect="non-scaling-stroke">U</text>
<text transform="translate(295.40 356.37) scale(0.69 1)" fill="#155a3a" stroke="#155a3a" vector-effect="non-scaling-stroke">U</text>
<text transform="translate(307.76 356.37) scale(0.63 1)" fill="#4b490d" stroke="#4b490d" vector-effect="non-scaling-stroke">G</text>
<text transform="translate(320.12 356.37) scale(0.63 1)" fill="#4b490d" stroke="#4b490d" vector-effect="non-scaling-stroke">G</text>
<text transform="translate(332.48 356.37) scale(0.71 1)" fill="#4b490d" stroke="#4b490d" vector-effect="non-scaling-stroke">A</text>
<text transform="translate(344.84 356.37) scale(0.63 1)" fill="#4b490d" stroke="#4b490d" vector-effect="non-scaling-stroke">G</text>
<text transform="translate(357.20 356.37) scale(0.63 1)" fill="#4b490d" stroke="#4b490d" vector-effect="non-scaling-stroke">G</text>
<text transform="translate(369.56 356.37) scale(0.65 1)" fill="#155a3a" stroke="#155a3a" vector-effect="non-scaling-stroke">C</text>
<text transform="translate(381.92 356.37) scale(0.69 1)" fill="#155a3a" stroke="#155a3a" vector-effect="non-scaling-stroke">U</text>
<text transform="translate(394.28 356.37) scale(0.69 1)" fill="#155a3a" stroke="#155a3a" vector-effect="non-scaling-stroke">U</text>
<text transform="translate(406.64 356.37) scale(0.69 1)" fill="#155a3a" stroke="#155a3a" vector-effect="non-scaling-stroke">U</text>
<text transform="translate(419.00 356.37) scale(0.69 1)" fill="#155a3a" stroke="#155a3a" vector-effect="non-scaling-stroke">U</text>
<text transform="translate(431.36 356.37) scale(0.69 1)" fill="#155a3a" stroke="#155a3a" vector-effect="non-scaling-stroke">U</text>
<text transform="translate(443.72 356.37) scale(0.69 1)" fill="#155a3a" stroke="#155a3a" vector-effect="non-scaling-stroke">U</text>
<text transform="translate(456.08 356.37) scale(0.71 1)" fill="#5e2709" stroke="#5e2709" vector-effect="non-scaling-stroke">A</text>
<text transform="translate(468.44 356.37) scale(0.69 1)" fill="#5e2709" stroke="#5e2709" vector-effect="non-scaling-stroke">U</text>
<text transform="translate(480.80 356.37) scale(0.63 1)" fill="#5e2709" stroke="#5e2709" vector-effect="non-scaling-stroke">G</text>
<text transform="translate(493.16 356.37) scale(0.63 1)" fill="#155a3a" stroke="#155a3a" vector-effect="non-scaling-stroke">G</text>
<text transform="translate(505.52 356.37) scale(0.69 1)" fill="#155a3a" stroke="#155a3a" vector-effect="non-scaling-stroke">U</text>
<text transform="translate(517.88 356.37) scale(0.69 1)" fill="#155a3a" stroke="#155a3a" vector-effect="non-scaling-stroke">U</text>
<text transform="translate(530.24 356.37) scale(0.65 1)" fill="#155a3a" stroke="#155a3a" vector-effect="non-scaling-stroke">C</text>
<text transform="translate(542.60 356.37) scale(0.63 1)" fill="#155a3a" stroke="#155a3a" vector-effect="non-scaling-stroke">G</text>
<text transform="translate(554.96 356.37) scale(0.69 1)" fill="#155a3a" stroke="#155a3a" vector-effect="non-scaling-stroke">U</text>
<text transform="translate(567.32 356.37) scale(0.69 1)" fill="#155a3a" stroke="#155a3a" vector-effect="non-scaling-stroke">U</text>
<text transform="translate(579.68 356.37) scale(0.65 1)" fill="#155a3a" stroke="#155a3a" vector-effect="non-scaling-stroke">C</text>
<text transform="translate(592.04 356.37) scale(0.69 1)" fill="#155a3a" stroke="#155a3a" vector-effect="non-scaling-stroke">U</text>
</g></g>
<g>
<text x="0" y="0" font-family="Liberation Sans" font-size="18" fill="#262626" stroke="#262626" stroke-width="0.5" transform="translate(26.80 384.90) scale(0.8068 1)"><tspan font-style="italic">E.</tspan></text>
<text x="0" y="0" font-family="Liberation Sans" font-size="18" fill="#262626" stroke="#262626" stroke-width="0.5" transform="translate(42.98 384.90) scale(0.8909 1)"><tspan font-style="italic">coli</tspan></text>
<text x="0" y="0" font-family="Liberation Sans" font-size="18" fill="#262626" stroke="#262626" stroke-width="0.5" transform="translate(72.08 384.90) scale(0.9000 1)">RNA</text>
<text x="0" y="0" font-family="Liberation Sans" font-size="18" fill="#262626" stroke="#262626" stroke-width="0.5" transform="translate(111.28 384.90) scale(0.9580 1)">polymerase</text>
<text x="0" y="0" font-family="Liberation Sans" font-size="18" fill="#262626" stroke="#262626" stroke-width="0.5" transform="translate(206.04 384.90) scale(0.9300 1)">B</text>
<rect x="223.0" y="369.20" width="381.0" height="21.00" fill="#82ca9f"/>
<rect x="325.00" y="369.20" width="52.24" height="21.00" fill="#fbf9b0"/>
<rect x="448.20" y="369.20" width="39.58" height="21.00" fill="#f0a135"/>
<rect x="223.0" y="369.20" width="381.0" height="1.6" fill="#000" fill-opacity="0.58"/>
<rect x="223.0" y="369.20" width="1" height="20" fill="#000" fill-opacity="0.35"/>
<rect x="223.0" y="388.60" width="381.0" height="2.0" fill="#215f3e"/>
<g font-size="19.2" text-anchor="middle" stroke-width="0.8">
<text transform="translate(233.60 386.60) scale(0.71 1)" fill="#155a3a" stroke="#155a3a" vector-effect="non-scaling-stroke">A</text>
<text transform="translate(245.96 386.60) scale(0.63 1)" fill="#155a3a" stroke="#155a3a" vector-effect="non-scaling-stroke">G</text>
<text transform="translate(258.32 386.60) scale(0.65 1)" fill="#155a3a" stroke="#155a3a" vector-effect="non-scaling-stroke">C</text>
<text transform="translate(270.68 386.60) scale(0.63 1)" fill="#155a3a" stroke="#155a3a" vector-effect="non-scaling-stroke">G</text>
<text transform="translate(283.04 386.60) scale(0.71 1)" fill="#155a3a" stroke="#155a3a" vector-effect="non-scaling-stroke">A</text>
<text transform="translate(295.40 386.60) scale(0.63 1)" fill="#155a3a" stroke="#155a3a" vector-effect="non-scaling-stroke">G</text>
<text transform="translate(307.76 386.60) scale(0.65 1)" fill="#155a3a" stroke="#155a3a" vector-effect="non-scaling-stroke">C</text>
<text transform="translate(320.12 386.60) scale(0.69 1)" fill="#155a3a" stroke="#155a3a" vector-effect="non-scaling-stroke">U</text>
<text transform="translate(332.48 386.60) scale(0.63 1)" fill="#4b490d" stroke="#4b490d" vector-effect="non-scaling-stroke">G</text>
<text transform="translate(344.84 386.60) scale(0.71 1)" fill="#4b490d" stroke="#4b490d" vector-effect="non-scaling-stroke">A</text>
<text transform="translate(357.20 386.60) scale(0.63 1)" fill="#4b490d" stroke="#4b490d" vector-effect="non-scaling-stroke">G</text>
<text transform="translate(369.56 386.60) scale(0.63 1)" fill="#4b490d" stroke="#4b490d" vector-effect="non-scaling-stroke">G</text>
<text transform="translate(381.92 386.60) scale(0.71 1)" fill="#155a3a" stroke="#155a3a" vector-effect="non-scaling-stroke">A</text>
<text transform="translate(394.28 386.60) scale(0.71 1)" fill="#155a3a" stroke="#155a3a" vector-effect="non-scaling-stroke">A</text>
<text transform="translate(406.64 386.60) scale(0.65 1)" fill="#155a3a" stroke="#155a3a" vector-effect="non-scaling-stroke">C</text>
<text transform="translate(419.00 386.60) scale(0.65 1)" fill="#155a3a" stroke="#155a3a" vector-effect="non-scaling-stroke">C</text>
<text transform="translate(431.36 386.60) scale(0.65 1)" fill="#155a3a" stroke="#155a3a" vector-effect="non-scaling-stroke">C</text>
<text transform="translate(443.72 386.60) scale(0.69 1)" fill="#155a3a" stroke="#155a3a" vector-effect="non-scaling-stroke">U</text>
<text transform="translate(456.08 386.60) scale(0.71 1)" fill="#5e2709" stroke="#5e2709" vector-effect="non-scaling-stroke">A</text>
<text transform="translate(468.44 386.60) scale(0.69 1)" fill="#5e2709" stroke="#5e2709" vector-effect="non-scaling-stroke">U</text>
<text transform="translate(480.80 386.60) scale(0.63 1)" fill="#5e2709" stroke="#5e2709" vector-effect="non-scaling-stroke">G</text>
<text transform="translate(493.16 386.60) scale(0.63 1)" fill="#155a3a" stroke="#155a3a" vector-effect="non-scaling-stroke">G</text>
<text transform="translate(505.52 386.60) scale(0.69 1)" fill="#155a3a" stroke="#155a3a" vector-effect="non-scaling-stroke">U</text>
<text transform="translate(517.88 386.60) scale(0.69 1)" fill="#155a3a" stroke="#155a3a" vector-effect="non-scaling-stroke">U</text>
<text transform="translate(530.24 386.60) scale(0.69 1)" fill="#155a3a" stroke="#155a3a" vector-effect="non-scaling-stroke">U</text>
<text transform="translate(542.60 386.60) scale(0.71 1)" fill="#155a3a" stroke="#155a3a" vector-effect="non-scaling-stroke">A</text>
<text transform="translate(554.96 386.60) scale(0.65 1)" fill="#155a3a" stroke="#155a3a" vector-effect="non-scaling-stroke">C</text>
<text transform="translate(567.32 386.60) scale(0.69 1)" fill="#155a3a" stroke="#155a3a" vector-effect="non-scaling-stroke">U</text>
<text transform="translate(579.68 386.60) scale(0.65 1)" fill="#155a3a" stroke="#155a3a" vector-effect="non-scaling-stroke">C</text>
<text transform="translate(592.04 386.60) scale(0.65 1)" fill="#155a3a" stroke="#155a3a" vector-effect="non-scaling-stroke">C</text>
</g></g>
<rect x="25.7" y="405.7" width="585.8" height="125.6" fill="none" stroke="#0b0b0b" stroke-width="2.6"/>
<text x="0" y="0" font-family="Liberation Serif" font-size="24.5" font-style="italic" fill="#141414" stroke="#141414" stroke-width="0.4" transform="translate(35.00 433.30) scale(0.9664 1)">SD</text>
<text x="0" y="0" font-family="Liberation Serif" font-size="24.5" font-style="italic" fill="#141414" stroke="#141414" stroke-width="0.4" transform="translate(71.60 433.30) scale(0.9718 1)">Sequence</text>
<text x="0" y="0" font-family="Liberation Serif" font-size="24.5" font-style="italic" fill="#141414" stroke="#141414" stroke-width="0.4" transform="translate(171.06 433.30) scale(1.0884 1)">of</text>
<text x="0" y="0" font-family="Liberation Serif" font-size="24.5" font-style="italic" fill="#141414" stroke="#141414" stroke-width="0.4" transform="translate(201.97 433.30) scale(0.9341 1)">Different</text>
<text x="0" y="0" font-family="Liberation Serif" font-size="24.5" font-style="italic" fill="#141414" stroke="#141414" stroke-width="0.4" transform="translate(296.08 433.30) scale(1.0314 1)">organisms</text>
<text x="0" y="0" font-family="Liberation Serif" font-size="24.5" font-style="italic" fill="#141414" stroke="#141414" stroke-width="0.4" transform="translate(408.24 433.30) scale(1.0274 1)">are</text>
<text x="0" y="0" font-family="Liberation Serif" font-size="24.5" font-style="italic" fill="#141414" stroke="#141414" stroke-width="0.4" transform="translate(449.50 433.30) scale(1.0068 1)">aligned</text>
<text x="0" y="0" font-family="Liberation Serif" font-size="24.5" font-style="italic" fill="#141414" stroke="#141414" stroke-width="0.4" transform="translate(529.60 433.30) scale(1.1448 1)">for</text>
<text x="0" y="0" font-family="Liberation Serif" font-size="24.5" font-style="italic" fill="#141414" stroke="#141414" stroke-width="0.4" transform="translate(569.79 433.30) scale(1.0748 1)">the</text>
<text x="0" y="0" font-family="Liberation Serif" font-size="24.5" font-style="italic" fill="#141414" stroke="#141414" stroke-width="0.4" transform="translate(35.00 461.80) scale(1.0622 1)">Start</text>
<text x="0" y="0" font-family="Liberation Serif" font-size="24.5" font-style="italic" fill="#141414" stroke="#141414" stroke-width="0.4" transform="translate(91.33 461.80) scale(0.9391 1)">Codon</text>
<text x="0" y="0" font-family="Liberation Serif" font-size="24.5" font-style="italic" fill="#141414" stroke="#141414" stroke-width="0.4" transform="translate(162.44 461.80) scale(0.7906 1)">AUG:</text>
<text x="0" y="0" font-family="Liberation Serif" font-size="24.5" font-style="italic" fill="#141414" stroke="#141414" stroke-width="0.4" transform="translate(216.05 461.80) scale(0.8946 1)">Note</text>
<text x="0" y="0" font-family="Liberation Serif" font-size="24.5" font-style="italic" fill="#141414" stroke="#141414" stroke-width="0.4" transform="translate(264.14 461.80) scale(1.1409 1)">the</text>
<text x="0" y="0" font-family="Liberation Serif" font-size="24.5" font-style="italic" fill="#141414" stroke="#141414" stroke-width="0.4" transform="translate(306.00 461.80) scale(1.0389 1)">slight</text>
<text x="0" y="0" font-family="Liberation Serif" font-size="24.5" font-style="italic" fill="#141414" stroke="#141414" stroke-width="0.4" transform="translate(370.90 461.80) scale(1.0162 1)">variations</text>
<text x="0" y="0" font-family="Liberation Serif" font-size="24.5" font-style="italic" fill="#141414" stroke="#141414" stroke-width="0.4" transform="translate(478.11 461.80) scale(0.8706 1)">in</text>
<text x="0" y="0" font-family="Liberation Serif" font-size="24.5" font-style="italic" fill="#141414" stroke="#141414" stroke-width="0.4" transform="translate(500.42 461.80) scale(1.1043 1)">the</text>
<text x="0" y="0" font-family="Liberation Serif" font-size="24.5" font-style="italic" fill="#141414" stroke="#141414" stroke-width="0.4" transform="translate(540.90 461.80) scale(0.9975 1)">length</text>
<text x="0" y="0" font-family="Liberation Serif" font-size="24.5" font-style="italic" fill="#141414" stroke="#141414" stroke-width="0.4" transform="translate(35.06 490.50) scale(1.0884 1)">of</text>
<text x="0" y="0" font-family="Liberation Serif" font-size="24.5" font-style="italic" fill="#141414" stroke="#141414" stroke-width="0.4" transform="translate(65.30 490.50) scale(0.9445 1)">SD</text>
<text x="0" y="0" font-family="Liberation Serif" font-size="24.5" font-style="italic" fill="#141414" stroke="#141414" stroke-width="0.4" transform="translate(105.00 490.50) scale(0.9777 1)">sequence</text>
<text x="0" y="0" font-family="Liberation Serif" font-size="24.5" font-style="italic" fill="#141414" stroke="#141414" stroke-width="0.4" transform="translate(204.50 490.50) scale(0.9932 1)">and</text>
<text x="0" y="0" font-family="Liberation Serif" font-size="24.5" font-style="italic" fill="#141414" stroke="#141414" stroke-width="0.4" transform="translate(253.64 490.50) scale(1.0089 1)">relative</text>
<text x="0" y="0" font-family="Liberation Serif" font-size="24.5" font-style="italic" fill="#141414" stroke="#141414" stroke-width="0.4" transform="translate(339.80 490.50) scale(1.0068 1)">distance</text>
<text x="0" y="0" font-family="Liberation Serif" font-size="24.5" font-style="italic" fill="#141414" stroke="#141414" stroke-width="0.4" transform="translate(434.48 490.50) scale(1.0465 1)">of</text>
<text x="0" y="0" font-family="Liberation Serif" font-size="24.5" font-style="italic" fill="#141414" stroke="#141414" stroke-width="0.4" transform="translate(464.40 490.50) scale(0.9025 1)">SD</text>
<text x="0" y="0" font-family="Liberation Serif" font-size="24.5" font-style="italic" fill="#141414" stroke="#141414" stroke-width="0.4" transform="translate(503.75 490.50) scale(0.9919 1)">sequences</text>
<text x="0" y="0" font-family="Liberation Serif" font-size="24.5" font-style="italic" fill="#141414" stroke="#141414" stroke-width="0.4" transform="translate(32.20 518.90) scale(1.1640 1)">from</text>
<text x="0" y="0" font-family="Liberation Serif" font-size="24.5" font-style="italic" fill="#141414" stroke="#141414" stroke-width="0.4" transform="translate(87.95 518.90) scale(1.0661 1)">the</text>
<text x="0" y="0" font-family="Liberation Serif" font-size="24.5" font-style="italic" fill="#141414" stroke="#141414" stroke-width="0.4" transform="translate(124.70 518.90) scale(0.9770 1)">start</text>
<text x="0" y="0" font-family="Liberation Serif" font-size="24.5" font-style="italic" fill="#141414" stroke="#141414" stroke-width="0.4" transform="translate(175.07 518.90) scale(1.0677 1)">codon.</text>
</svg></body></html>
